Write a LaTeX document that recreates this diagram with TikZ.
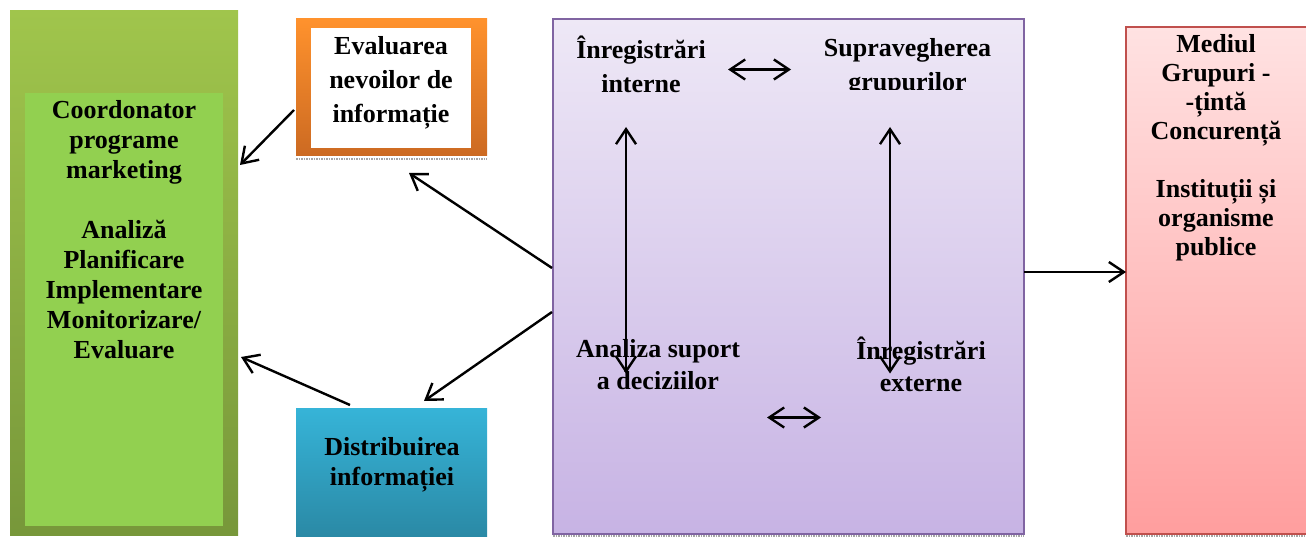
\documentclass[tikz,border=0pt]{standalone}
\usepackage{fontspec}
\setmainfont{Liberation Serif}
\usetikzlibrary{arrows.meta,calc}
\definecolor{grnTop}{HTML}{A0C54C}
\definecolor{grnBot}{HTML}{77973A}
\definecolor{grnIn}{HTML}{92D050}
\definecolor{orgTop}{HTML}{FF922D}
\definecolor{orgBot}{HTML}{CC6A22}
\definecolor{bluTop}{HTML}{36B4D8}
\definecolor{bluBot}{HTML}{2A88A4}
\definecolor{purTop}{HTML}{EEE8F6}
\definecolor{purBot}{HTML}{C7B3E4}
\definecolor{purLine}{HTML}{8064A2}
\definecolor{redTop}{HTML}{FFE2E2}
\definecolor{redBot}{HTML}{FF9E9E}
\definecolor{redLine}{HTML}{C0504D}
\begin{document}
\begin{tikzpicture}[x=1pt,y=-1pt,
  box/.style={rectangle, inner sep=0pt, outer sep=0pt},
  lbl/.style={font=\bfseries\fontsize{26}{30}\selectfont, align=center, inner sep=0pt, text=black},
  arr/.style={line width=2.4pt, -{Straight Barb[length=15pt,width=20pt]}},
  darr/.style={line width=2.4pt, {Straight Barb[length=15pt,width=20pt]}-{Straight Barb[length=15pt,width=20pt]}},
  shadowline/.style={black!35, densely dotted, line width=1.5pt}]
\useasboundingbox (0,0) rectangle (1306,537);
% boxes
\node[box, minimum width=228pt, minimum height=524pt, top color=grnTop, bottom color=grnBot] (gout) at (124,273) {};
\node[box, minimum width=198pt, minimum height=433pt, fill=grnIn] (gin) at (124,309.5) {};
\node[box, minimum width=191pt, minimum height=137.5pt, top color=orgTop, bottom color=orgBot] (org) at (391.5,87.25) {};
\node[box, minimum width=160pt, minimum height=120pt, fill=white] (orgin) at (391,88) {};
\node[box, minimum width=191pt, minimum height=132pt, top color=bluTop, bottom color=bluBot] (blu) at (391.5,474) {};
\node[box, minimum width=471pt, minimum height=515pt, top color=purTop, bottom color=purBot, draw=purLine, line width=1.5pt] (pur) at (788.5,276.5) {};
\node[box, minimum width=184pt, minimum height=507pt, top color=redTop, bottom color=redBot, draw=redLine, line width=1.5pt] (red) at (1218,280.5) {};
% shadows
\draw[shadowline] ([yshift=-3pt]org.south west) -- ([yshift=-3pt]org.south east);
\draw[shadowline] ([yshift=-2pt]pur.south west) -- ([yshift=-2pt]pur.south east);
\draw[shadowline] ([yshift=-2pt]red.south west) -- ([yshift=-2pt]red.south east);
% texts
\node[lbl] (gt) at (124,229.5) {Coordonator\\programe\\marketing\\[30pt]Analiză\\Planificare\\Implementare\\Monitorizare/\\Evaluare};
\node[lbl, font=\bfseries\fontsize{26}{34}\selectfont] (ot) at (391,82.5) {Evaluarea\\nevoilor de\\informație};
\node[lbl] (bt) at (392,465) {Distribuirea\\informației};
\node[lbl, font=\bfseries\fontsize{26}{34}\selectfont] (ii) at (641,64) {Înregistrări\\interne};
\begin{scope}
\clip (553,19) rectangle (1024,90);
\node[lbl, font=\bfseries\fontsize{26}{34}\selectfont] (sg) at (907.5,67) {Supravegherea\\grupurilor};
\end{scope}
\node[lbl, font=\bfseries\fontsize{26}{31.5}\selectfont] (as) at (658,364.5) {Analiza suport\\a deciziilor};
\node[lbl, font=\bfseries\fontsize{26}{31.5}\selectfont] (ie) at (921,364.5) {Înregistrări\\externe};
\node[lbl, font=\bfseries\fontsize{26}{29}\selectfont] (rt) at (1216,148) {Mediul\\Grupuri -\\-țintă\\Concurență\\[29pt]Instituții și\\organisme\\publice};
% connectors
\draw[arr] ([xshift=-2pt,yshift=-91.5pt]org.north west) -- ([xshift=2pt,yshift=-154pt]gout.north east);
\draw[arr] ([xshift=-1pt,yshift=-249pt]pur.north west) -- ([xshift=17.5pt,yshift=-17pt]org.south);
\draw[arr] ([xshift=-1pt,yshift=-293pt]pur.north west) -- ([xshift=32.5pt,yshift=7pt]blu.north);
\draw[arr] ([xshift=-41.5pt,yshift=3pt]blu.north) -- ([xshift=3pt,yshift=-346pt]gout.north east);
\draw[arr] ([yshift=4.5pt]pur.east) -- ([yshift=4.5pt]pur.east -| red.west);
\draw[darr] ([xshift=87pt,yshift=-5.5pt]ii.center) -- ([xshift=-116.5pt,yshift=-5.5pt]sg.center |- ii.center);
\draw[darr] ([xshift=-15pt,yshift=-63pt]ii.center) -- ([xshift=-32pt,yshift=-9pt]as.center);
\draw[darr] ([xshift=-17.5pt,yshift=-63pt]ii.center -| sg.center) -- ([xshift=-31pt,yshift=-9pt]ie.center);
\draw[darr] ([xshift=109pt,yshift=-53pt]as.center) -- ([xshift=-100pt,yshift=-53pt]ie.center);
\end{tikzpicture}
\end{document}
